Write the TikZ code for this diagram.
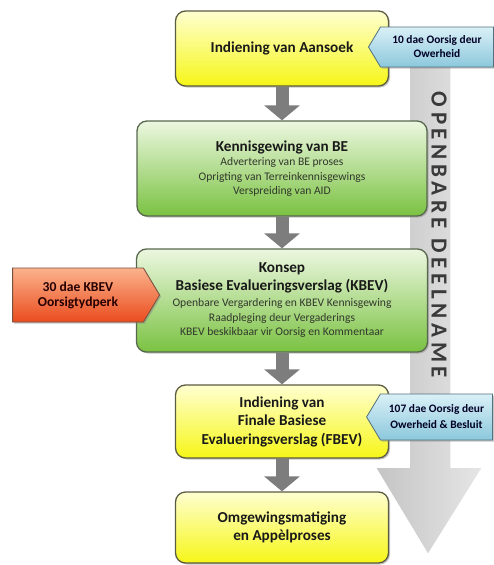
\documentclass[tikz,border=0pt]{standalone}
\usepackage{fontspec}
\setmainfont{Carlito}
\usetikzlibrary{arrows.meta,shapes.symbols,shadows}

\definecolor{geelbo}{RGB}{255,255,208}
\definecolor{geelon}{RGB}{246,246,24}
\definecolor{geelrand}{RGB}{92,92,66}
\definecolor{groenbo}{RGB}{236,247,224}
\definecolor{groenon}{RGB}{122,194,66}
\definecolor{groenrand}{RGB}{88,104,78}
\definecolor{bloubo}{RGB}{218,240,247}
\definecolor{blouon}{RGB}{140,200,220}
\definecolor{blourand}{RGB}{84,112,124}
\definecolor{oranjebo}{RGB}{251,178,140}
\definecolor{oranjeon}{RGB}{234,76,30}
\definecolor{oranjerand}{RGB}{120,80,60}
\definecolor{pylgrys}{RGB}{125,125,125}
\definecolor{bandlinks}{RGB}{196,196,196}
\definecolor{bandregs}{RGB}{230,230,230}
\definecolor{bandteks}{RGB}{58,58,58}
\definecolor{kleinteks}{RGB}{50,56,44}

\newcommand{\kl}[1]{{\mdseries\fontsize{11.6}{14.5}\selectfont\color{kleinteks}#1}}

\begin{document}
\begin{tikzpicture}[x=1pt, y=-1pt,
    kas/.style={draw, rounded corners=10pt, line width=1.3pt, align=center,
        font=\bfseries\fontsize{15.2}{18.5}\selectfont, text=black!90,
        drop shadow={shadow xshift=1.5pt, shadow yshift=-1.5pt, opacity=0.45}},
    geel/.style={kas, draw=geelrand, top color=geelbo, bottom color=geelon},
    groen/.style={kas, draw=groenrand, top color=groenbo, bottom color=groenon,
        font=\bfseries\fontsize{15.2}{14.5}\selectfont},
    etiket/.style={shape=signal, signal pointer angle=118, line width=0.8pt,
        align=center, inner sep=2pt,
        drop shadow={shadow xshift=1.5pt, shadow yshift=-1.5pt, opacity=0.45}},
    blou/.style={etiket, signal to=west, draw=blourand, top color=bloubo,
        bottom color=blouon, font=\bfseries\fontsize{11.4}{14}\selectfont,
        text=black!85!blue},
    oranje/.style={etiket, signal to=east, draw=oranjerand, top color=oranjebo,
        bottom color=oranjeon, font=\bfseries\fontsize{13.6}{15}\selectfont,
        text=black!85!red},
    pyl/.style={-{Triangle[width=35pt,length=15pt]}, line width=13pt, draw=pylgrys}
]
\useasboundingbox (0,0) rectangle (494,565);

% groot pyl agter
\path[left color=bandlinks, right color=bandregs, draw=white, line width=1.5pt]
    (409,58) -- (451,58) -- (451,467) -- (483,467) -- (428,555)
    -- (375,467) -- (409,467) -- cycle;
\node[rotate=-90, text=bandteks,
    font=\bfseries\fontsize{23}{23}\selectfont\addfontfeature{LetterSpace=20}]
    (deelname) at (439,235) {OPENBARE DEELNAME};

\node[geel, minimum width=213pt, minimum height=75pt] (b_ind) at (282,48.5)
    {Indiening van Aansoek};
\node[groen, minimum width=290pt, minimum height=95pt] (b_ken) at (282,168.5)
    {Kennisgewing van BE\\ \kl{Advertering van BE proses}\\
     \kl{Oprigting van Terreinkennisgewings}\\ \kl{Verspreiding van AID}};
\node[groen, minimum width=291pt, minimum height=103pt] (b_kon) at (282,300.5)
    {Konsep\\[3.5pt] Basiese Evalueringsverslag (KBEV)\\[1.5pt]
     \kl{Openbare Vergardering en KBEV Kennisgewing}\\
     \kl{Raadpleging deur Vergaderings}\\
     \kl{KBEV beskikbaar vir Oorsig en Kommentaar}};
\node[geel, minimum width=213pt, minimum height=73pt] (b_fin) at (282,421.5)
    {Indiening van\\ Finale Basiese\\ Evalueringsverslag (FBEV)};
\node[geel, minimum width=213pt, minimum height=71pt] (b_app) at (282,527.5)
    {Omgewingsmatiging\\ en Appèlproses};

\node[blou, minimum width=125pt, minimum height=40pt] (t_ind) at (437,47)
    {10 dae Oorsig deur\\ Owerheid};
\node[oranje, minimum width=147pt, minimum height=54pt] (t_kon) at (78,295)
    {30 dae KBEV\\ Oorsigtydperk};
\node[blou, minimum width=126pt, minimum height=46pt,
    font=\bfseries\fontsize{11.4}{16}\selectfont] (t_fin) at (436.5,417)
    {107 dae Oorsig deur\\ Owerheid \& Besluit};

\foreach \van/\na in {b_ind/b_ken, b_ken/b_kon, b_kon/b_fin, b_fin/b_app}
    \draw[pyl] (\van) -- (\na);
\end{tikzpicture}
\end{document}
